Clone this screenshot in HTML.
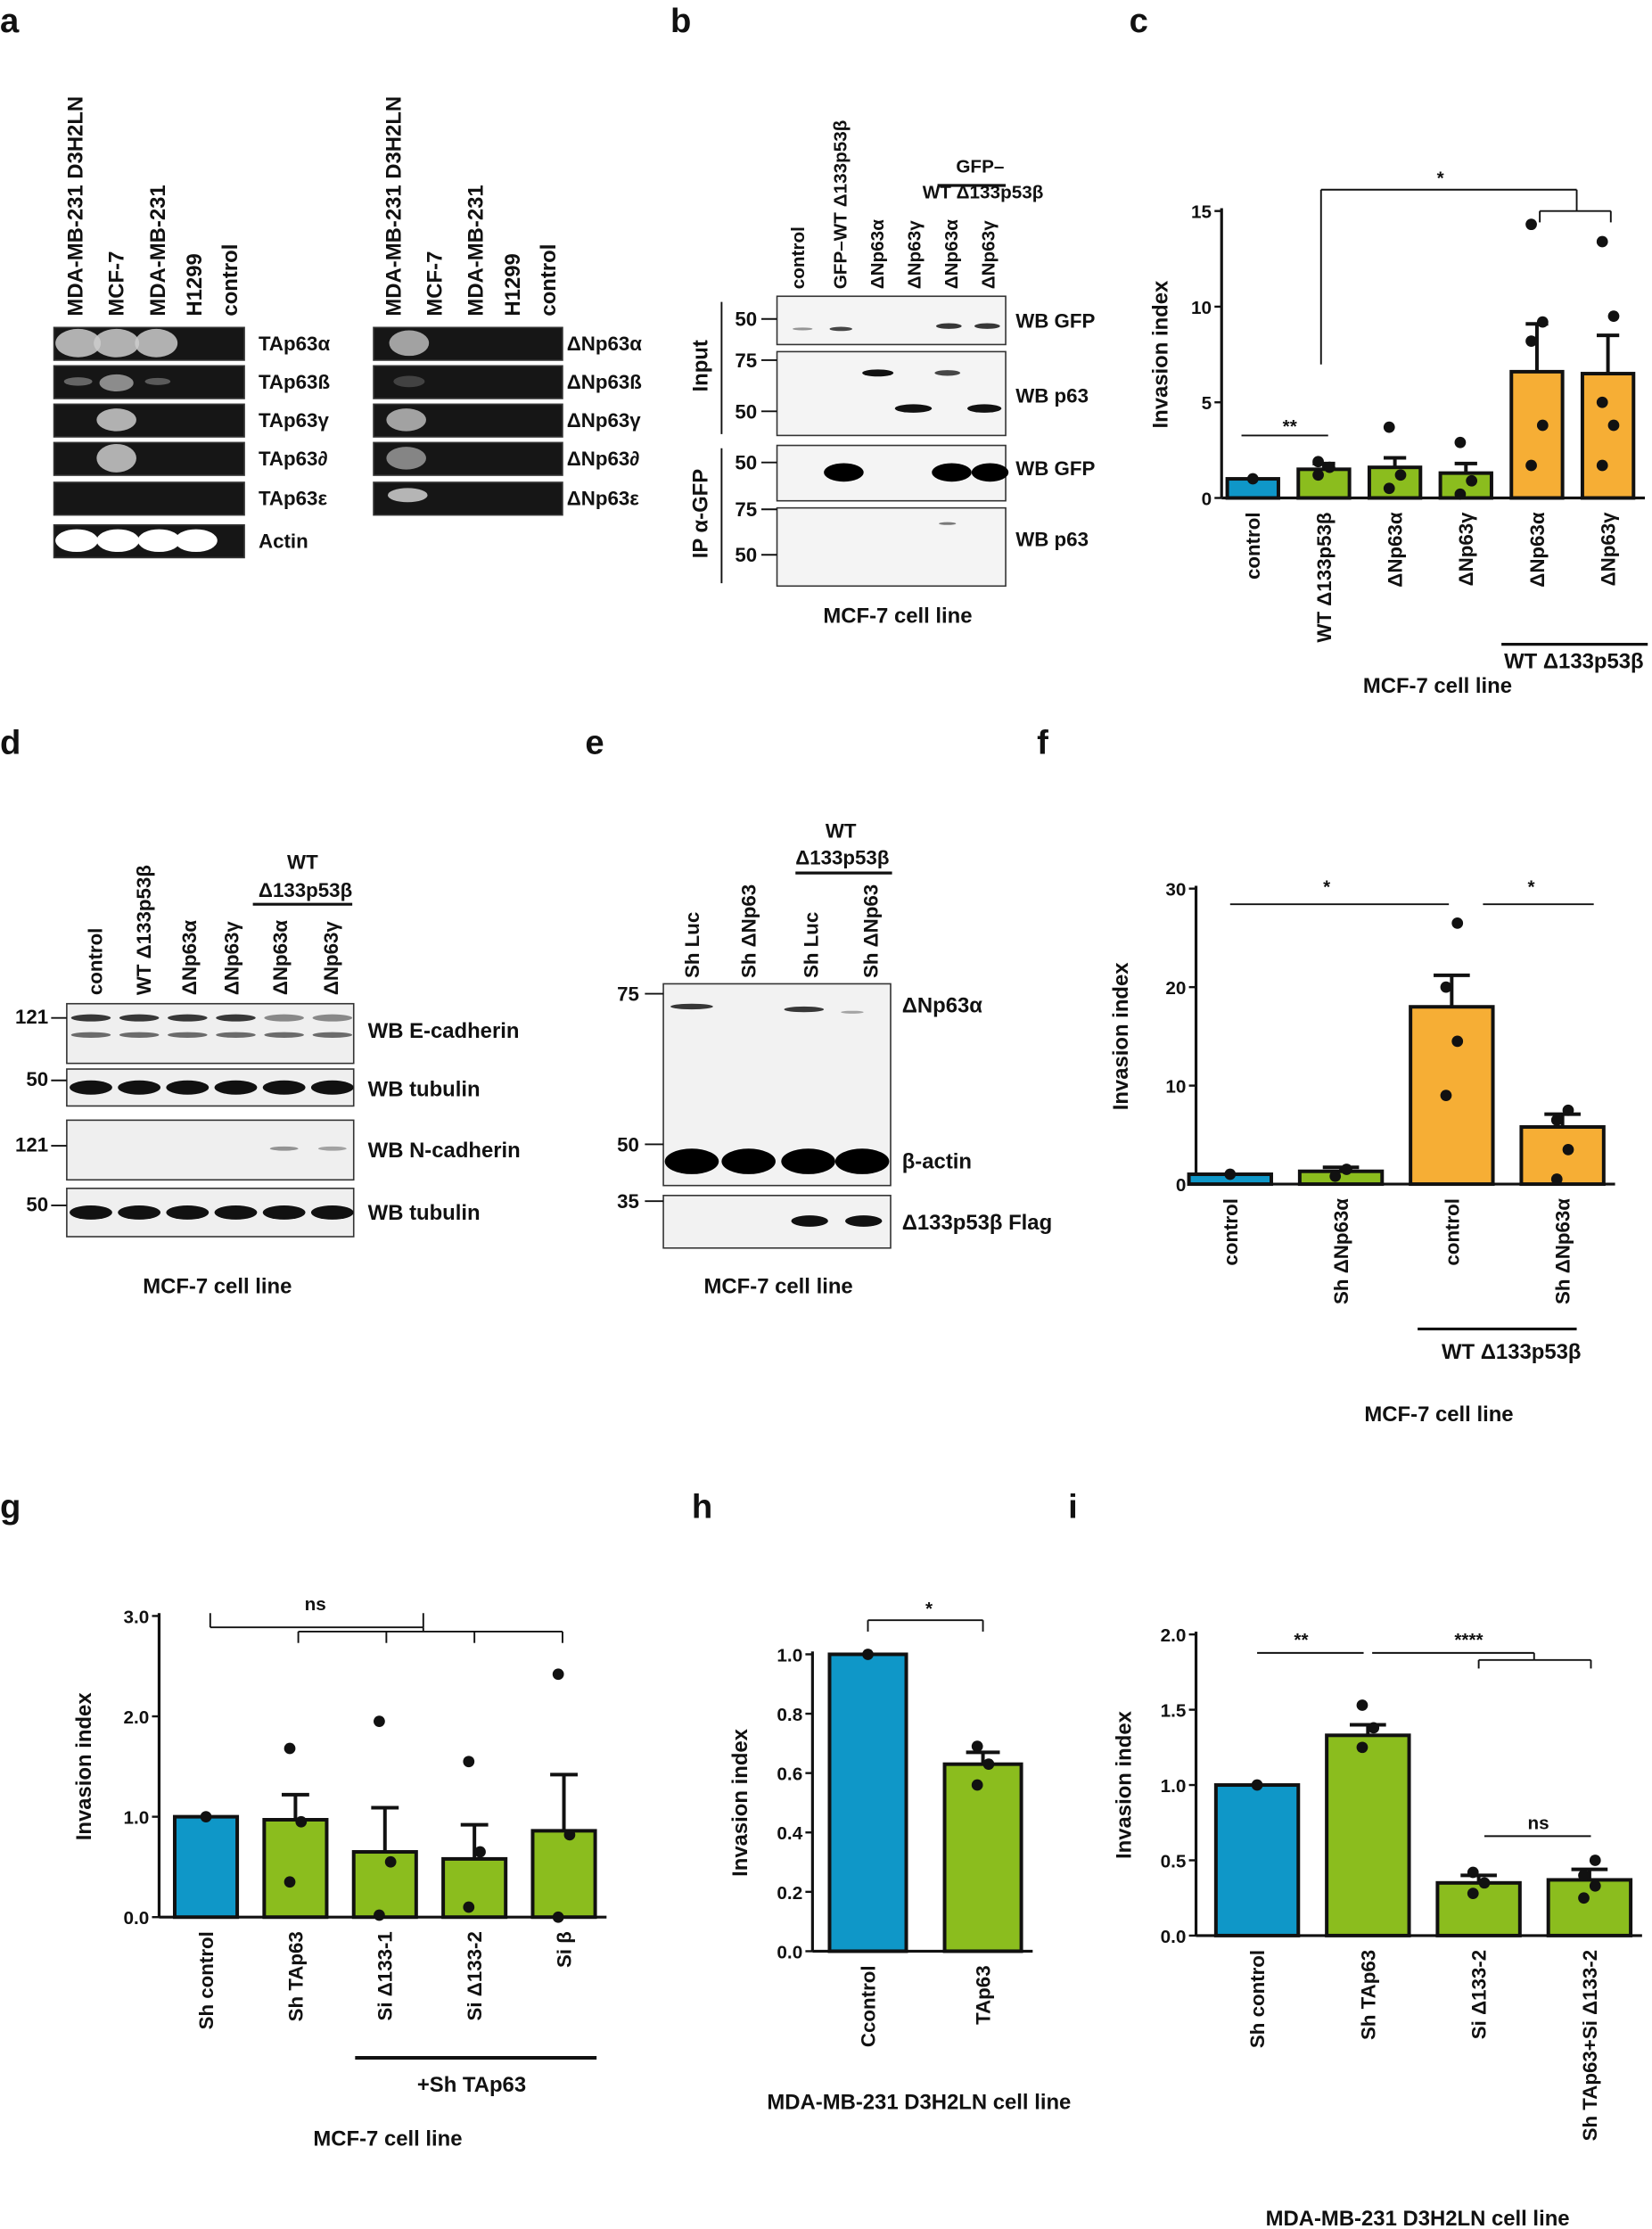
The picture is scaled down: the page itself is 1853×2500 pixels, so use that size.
<!DOCTYPE html>
<html><head><meta charset="utf-8"><style>
html,body{margin:0;padding:0;background:#fff}
svg{display:block}
text{font-family:"Liberation Sans",sans-serif;font-weight:bold;fill:#111}
</style></head><body>
<svg id="fig" width="1853" height="2500" viewBox="0 0 1163 1568" xmlns="http://www.w3.org/2000/svg">
<g id="static">
<text x="0" y="22" font-size="24">a</text>
<text x="472" y="22" font-size="24">b</text>
<text x="795" y="22" font-size="24">c</text>
<text x="0" y="530" font-size="24">d</text>
<text x="412" y="530" font-size="24">e</text>
<text x="730" y="530" font-size="24">f</text>
<text x="0" y="1068" font-size="24">g</text>
<text x="487" y="1068" font-size="24">h</text>
<text x="752" y="1068" font-size="24">i</text>
<text x="632" y="438" font-size="15" text-anchor="middle">MCF-7 cell line</text>
<text x="1012" y="487" font-size="15" text-anchor="middle">MCF-7 cell line</text>
<text x="153" y="910" font-size="15" text-anchor="middle">MCF-7 cell line</text>
<text x="548" y="910" font-size="15" text-anchor="middle">MCF-7 cell line</text>
<text x="1013" y="1000" font-size="15" text-anchor="middle">MCF-7 cell line</text>
<text x="273" y="1510" font-size="15" text-anchor="middle">MCF-7 cell line</text>
<text x="647" y="1484" font-size="15" text-anchor="middle">MDA-MB-231 D3H2LN  cell line</text>
<text x="998" y="1566" font-size="15" text-anchor="middle">MDA-MB-231 D3H2LN  cell line</text>
</g>
<g id="dyn"></g>
</svg>
<script>
// ---------- chart data ----------
const cCats=["control","WT Δ133p53β","ΔNp63α","ΔNp63γ","ΔNp63α","ΔNp63γ"];
const cVals=[1.0,1.5,1.6,1.3,6.6,6.5];
const cErr=[0,0.3,0.5,0.5,2.5,2.0];
const cPts=[[1],[1.2,1.6,1.9],[0.5,1.2,3.7],[0.2,0.9,2.9],[1.7,3.8,8.2,9.2,14.3],[1.7,3.8,5.0,9.5,13.4]];
const cTicks=[0,5,10,15];
const fCats=["control","Sh ΔNp63α","control","Sh ΔNp63α"];
const fVals=[1.0,1.3,18,5.8];
const fErr=[0,0.4,3.2,1.3];
const fPts=[[1],[0.8,1.5],[9,14.5,20,26.5],[0.5,3.5,6.5,7.5]];
const fTicks=[0,10,20,30];
const gCats=["Sh control","Sh TAp63","Si Δ133-1","Si Δ133-2","Si β"];
const gVals=[1.0,0.97,0.65,0.58,0.86];
const gErr=[0,0.25,0.44,0.34,0.56];
const gPts=[[1],[0.35,0.95,1.68],[0.02,0.55,1.95],[0.1,0.65,1.55],[0.0,0.82,2.42]];
const gTicks=[0,1,2,3];
const hCats=["Ccontrol","TAp63"];
const hVals=[1.0,0.63];
const hErr=[0,0.04];
const hPts=[[1],[0.56,0.63,0.69]];
const hTicks=[0,0.2,0.4,0.6,0.8,1.0];
const iCats=["Sh control","Sh TAp63","Si Δ133-2","Sh TAp63+Si Δ133-2"];
const iVals=[1.0,1.33,0.35,0.37];
const iErr=[0,0.07,0.05,0.07];
const iPts=[[1],[1.25,1.38,1.53],[0.28,0.35,0.42],[0.25,0.33,0.4,0.5]];
const iTicks=[0,0.5,1.0,1.5,2.0];

const NS="http://www.w3.org/2000/svg";
const root=document.getElementById('dyn');
function el(tag,attrs,parent,txt){const e=document.createElementNS(NS,tag);for(const k in attrs)e.setAttribute(k,attrs[k]);if(txt!==undefined)e.textContent=txt;(parent||root).appendChild(e);return e;}
function vtext(x,y,s,size,name,anchor){const t=el('text',{x:x,y:y,'font-size':size,'text-anchor':anchor||'end',transform:`rotate(-90 ${x} ${y})`},root,s);

return t;}

function chart(o){
  const g=el('g',{});
  
  
  const ymax=o.ticks[o.ticks.length-1];
  const Y=v=>o.y0-(v/ymax)*(o.y0-o.ytop);
  const X=i=>o.x0+o.first+i*o.step;
  const ax=el('line',{x1:o.x0,y1:o.y0,x2:o.x0,y2:o.ytop-2,stroke:'#111','stroke-width':2},g);
  
  
  const bx=el('line',{x1:o.x0,y1:o.y0,x2:X(o.vals.length-1)+o.bw/2+8,y2:o.y0,stroke:'#111','stroke-width':2},g);
  
  
  o.ticks.forEach((t,k)=>{
    const tl=el('line',{x1:o.x0-5,x2:o.x0,y1:Y(t),y2:Y(t),stroke:'#111','stroke-width':1.5},g);
    
    
    const tt=el('text',{x:o.x0-7,y:Y(t)+5,'font-size':13,'text-anchor':'end'},g,o.tickLabels?o.tickLabels[k]:String(t));
    
    
  });
  vtext(o.x0-o.ytOff,(o.y0+o.ytop)/2,'Invasion index',15,'y-axis-title','middle');
  o.vals.forEach((v,i)=>{
    const r=el('rect',{x:X(i)-o.bw/2,y:Y(v),width:o.bw,height:o.y0-Y(v),fill:o.colors[i],stroke:'#111','stroke-width':2.5},g);
    
    
    if(o.err[i]>0){
      const e1=el('line',{x1:X(i),x2:X(i),y1:Y(v),y2:Y(v+o.err[i]),stroke:'#111','stroke-width':2.5},g);
      
      
      const e2=el('line',{x1:X(i)-o.bw*0.22,x2:X(i)+o.bw*0.22,y1:Y(v+o.err[i]),y2:Y(v+o.err[i]),stroke:'#111','stroke-width':2.5},g);
      
      
    }
    o.pts[i].forEach((p,j)=>{
      const n=o.pts[i].length;const dx=n>1?(j%2?4:-4):0;
      const c=el('circle',{cx:X(i)+dx,cy:Y(p),r:4,fill:'#111'},g);
      
      
    });
    vtext(X(i)+5,o.y0+10,o.cats[i],14,'x-label-'+i,'end');
  });
  return {X,Y};
}
const BL='#0f97c8', GR='#8bbd1e', OR='#f6ae35';
chart({name:'chart-c',x0:860,y0:350,ytop:148,first:22,step:50,bw:36,vals:cVals,err:cErr,pts:cPts,cats:cCats,ticks:cTicks,colors:[BL,GR,GR,GR,OR,OR],ytOff:38});
chart({name:'chart-f',x0:842,y0:833,ytop:625,first:24,step:78,bw:58,vals:fVals,err:fErr,pts:fPts,cats:fCats,ticks:fTicks,colors:[BL,GR,OR,OR],ytOff:48});
chart({name:'chart-g',x0:112,y0:1349,ytop:1137,first:33,step:63,bw:44,vals:gVals,err:gErr,pts:gPts,cats:gCats,ticks:gTicks,tickLabels:["0.0","1.0","2.0","3.0"],colors:[BL,GR,GR,GR,GR],ytOff:48});
chart({name:'chart-h',x0:572,y0:1373,ytop:1164,first:39,step:81,bw:54,vals:hVals,err:hErr,pts:hPts,cats:hCats,ticks:hTicks,tickLabels:["0.0","0.2","0.4","0.6","0.8","1.0"],colors:[BL,GR],ytOff:46});
chart({name:'chart-i',x0:842,y0:1362,ytop:1150,first:43,step:78,bw:58,vals:iVals,err:iErr,pts:iPts,cats:iCats,ticks:iTicks,tickLabels:["0.0","0.5","1.0","1.5","2.0"],colors:[BL,GR,GR,GR],ytOff:46});

function line(x1,y1,x2,y2,w,name){const l=el('line',{x1,y1,x2,y2,stroke:'#111','stroke-width':w||1.2});

return l;}
function txt(x,y,s,size,name,anchor){const t=el('text',{x,y,'font-size':size,'text-anchor':anchor||'middle'},root,s);

return t;}
function bracket(x1,x2,y,d){line(x1,y+d,x1,y);line(x1,y,x2,y);line(x2,y,x2,y+d);}
line(874,306,935,306);txt(908,304,'**',13,'sig-c1');
line(930,256,930,133);line(930,133,1110,133);line(1110,133,1110,148);bracket(1084,1134,148,8);txt(1014,129,'*',13,'sig-c2');
line(1057,453,1160,453,2);txt(1108,470,'WT Δ133p53β',15,'group-label-c');
line(866,636,1020,636);txt(934,628,'*',13,'sig-f1');line(1044,636,1122,636);txt(1078,628,'*',13,'sig-f2');
line(998,935,1110,935,2);txt(1064,956,'WT Δ133p53β',15,'group-label-f');
bracket(148,298,1145,-10);txt(222,1133,'ns',13,'sig-g');line(210,1148,396,1148);line(210,1148,210,1156);line(272,1148,272,1156);line(334,1148,334,1156);line(396,1148,396,1156);line(298,1145,298,1148);
line(250,1448,420,1448,2.5);txt(332,1472,'+Sh TAp63',15,'group-label-g');
bracket(611,692,1140,8);txt(654,1136,'*',13,'sig-h');
line(885,1163,960,1163);txt(916,1158,'**',13,'sig-i1');line(966,1163,1080,1163);txt(1034,1158,'****',13,'sig-i2');bracket(1041,1120,1168,6);line(1080,1163,1080,1168);
line(1045,1292,1120,1292);txt(1083,1287,'ns',13,'sig-i3');

// ---------- blots ----------
function box(x,y,w,hh,fill,name){const r=el('rect',{x,y,width:w,height:hh,fill,stroke:'#333','stroke-width':1});

return r;}
function band(cx,cy,w,hh,fill,op){const e=el('ellipse',{cx,cy,rx:w/2,ry:hh/2,fill,opacity:op});

}
const aLanes=["MDA-MB-231 D3H2LN","MCF-7","MDA-MB-231","H1299","control"];
const aLX=[52,81,110,136,161];
aLanes.forEach((s,k)=>{vtext(aLX[k]+6,222,s,15,'lane-a-left-'+k,'start');vtext(aLX[k]+6+224,222,s,15,'lane-a-right-'+k,'start');});
const aL=["TAp63α","TAp63ß","TAp63γ","TAp63∂","TAp63ε","Actin"];
const aR=["ΔNp63α","ΔNp63ß","ΔNp63γ","ΔNp63∂","ΔNp63ε"];
const aY=[230,257,284,311,339,369];
aL.forEach((s,k)=>{box(38,aY[k],134,23,'#161616','gel-left-'+k);txt(182,aY[k]+16,s,14,'gel-label-left-'+k,'start');});
aR.forEach((s,k)=>{box(263,aY[k],133,23,'#161616','gel-right-'+k);txt(399,aY[k]+16,s,14,'gel-label-right-'+k,'start');});
band(55,241,32,20,'#ccc',.85);band(82,241,32,20,'#ccc',.85);band(110,241,30,20,'#ccc',.85);
band(55,268,20,6,'#888',.7);band(82,269,24,12,'#aaa',.8);band(111,268,18,5,'#888',.6);
band(82,295,28,16,'#ccc',.85);band(82,322,28,20,'#ccc',.85);
[52,81,110,136].forEach(x=>band(x+2,380,30,16,'#fff',1));
band(288,241,28,18,'#bbb',.85);band(288,268,22,8,'#555',.7);band(286,295,28,16,'#bbb',.85);band(286,322,28,16,'#999',.85);band(287,348,28,10,'#ddd',.8);
const bLanes=["control","GFP–WT Δ133p53β","ΔNp63α","ΔNp63γ","ΔNp63α","ΔNp63γ"];
const bLX=[566,596,622,648,674,700];
bLanes.forEach((s,k)=>vtext(bLX[k],203,s,13,'lane-b-'+k,'start'));
line(660,130,708,130,2);txt(690,121,'GFP–',13,'lane-b-group1');txt(692,139,'WT Δ133p53β',13,'lane-b-group2');
box(547,208,161,34,'#f4f4f4','blot-b-input-gfp');box(547,247,161,59,'#f4f4f4','blot-b-input-p63');
box(547,313,161,39,'#f4f4f4','blot-b-ip-gfp');box(547,357,161,55,'#f4f4f4','blot-b-ip-p63');
band(592,231,16,3,'#333',.9);band(668,229,18,4,'#222',.9);band(695,229,18,4,'#222',.9);band(565,231,14,2,'#555',.6);
band(618,262,22,5,'#111',1);band(667,262,18,4,'#333',.9);band(643,287,26,6,'#111',1);band(693,287,24,6,'#111',1);
band(594,332,28,13,'#000',1);band(670,332,28,13,'#000',1);band(697,332,26,13,'#000',1);band(667,368,12,2,'#444',.7);
[["50",224],["75",253],["50",289],["50",325],["75",358],["50",390]].forEach((m,k)=>{txt(533,m[1]+5,m[0],14,'mw-b-'+k,'end');line(536,m[1],547,m[1]);});
line(508,212,508,305);line(508,315,508,410);vtext(498,257,'Input',15,'label-input','middle');vtext(498,361,'IP  α-GFP',15,'label-ip','middle');
[["WB GFP",230],["WB p63",283],["WB GFP",334],["WB p63",384]].forEach((m,k)=>txt(715,m[1],m[0],14,'wb-b-'+k,'start'));
const dLanes=["control","WT Δ133p53β","ΔNp63α","ΔNp63γ","ΔNp63α","ΔNp63γ"];
const dLX=[72,106,138,168,202,238];
dLanes.forEach((s,k)=>vtext(dLX[k],700,s,14,'lane-d-'+k,'start'));
line(178,636,248,636,2);txt(213,611,'WT',14,'lane-d-group1');txt(215,631,'Δ133p53β',14,'lane-d-group2');
box(47,706,202,42,'#efefef','blot-d-ecad');box(47,752,202,26,'#efefef','blot-d-tub1');box(47,788,202,42,'#efefef','blot-d-ncad');box(47,836,202,34,'#efefef','blot-d-tub2');
[64,98,132,166,200,234].forEach((x,k)=>{band(x,716,28,5,'#222',k>3?.5:.9);band(x,728,28,4,'#333',.7);band(x,765,30,10,'#111',1);band(x,853,30,10,'#111',1);});
band(200,808,20,3,'#555',.6);band(234,808,20,3,'#555',.5);
[["121",716],["50",760],["121",806],["50",848]].forEach((m,k)=>{txt(34,m[1]+4,m[0],14,'mw-d-'+k,'end');line(36,m[1],47,m[1]);});
[["WB E-cadherin",730],["WB tubulin",771],["WB N-cadherin",814],["WB tubulin",858]].forEach((m,k)=>txt(259,m[1],m[0],15,'wb-d-'+k,'start'));
const eLanes=["Sh Luc","Sh ΔNp63","Sh Luc","Sh ΔNp63"];
const eLX=[492,532,576,618];
eLanes.forEach((s,k)=>vtext(eLX[k],688,s,14,'lane-e-'+k,'start'));
line(560,614,628,614,2);txt(592,589,'WT',14,'lane-e-group1');txt(593,608,'Δ133p53β',14,'lane-e-group2');
box(467,692,160,142,'#f2f2f2','blot-e-main');box(467,841,160,37,'#f2f2f2','blot-e-flag');
band(487,708,30,4,'#222',.9);band(566,710,28,4,'#222',.9);band(600,712,16,2,'#555',.5);
[487,527,569,607].forEach(x=>band(x,817,38,18,'#000',1));
band(570,859,26,8,'#111',1);band(608,859,26,8,'#111',1);
[["75",699],["50",805],["35",845]].forEach((m,k)=>{txt(450,m[1]+5,m[0],14,'mw-e-'+k,'end');line(454,m[1],467,m[1]);});
[["ΔNp63α",712],["β-actin",822],["Δ133p53β Flag",865]].forEach((m,k)=>txt(635,m[1],m[0],15,'wb-e-'+k,'start'));
</script>
</body></html>
